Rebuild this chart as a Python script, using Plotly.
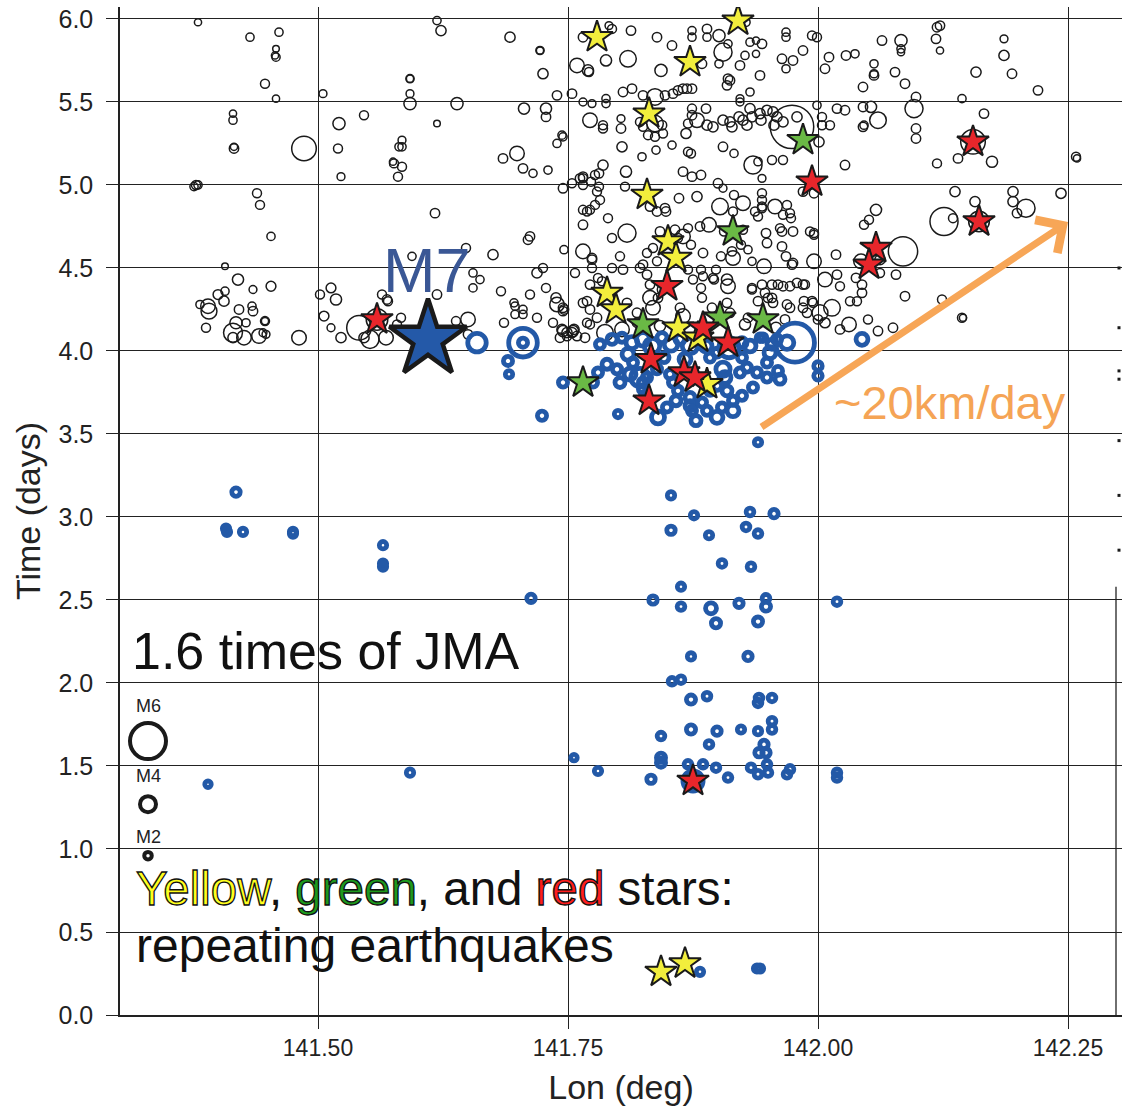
import plotly.graph_objects as go

# ---------------- data: (lon deg, time days, magnitude) ----------------
black_west = [(141.380,5.98,2.0),(141.432,5.89,2.3),(141.461,5.92,2.3),(141.458,5.82,1.8),(141.458,5.77,2.3),(141.457,5.78,2.0),
(141.447,5.61,2.5),(141.458,5.52,2.0),(141.415,5.43,2.0),(141.415,5.39,2.3),(141.416,5.22,2.6),(141.416,5.23,2.0),(141.486,5.22,4.8),
(141.378,5.00,2.5),(141.380,5.00,2.3),(141.376,4.99,2.3),(141.439,4.95,2.5),(141.442,4.88,2.5),(141.453,4.69,2.3),(141.407,4.51,1.8),
(141.420,4.43,3.0),(141.435,4.37,2.2),(141.453,4.39,2.7),(141.400,4.34,2.7),(141.407,4.36,2.3),(141.406,4.30,2.8),(141.382,4.28,2.3),
(141.390,4.27,3.6),(141.391,4.24,3.8),(141.421,4.25,2.6),(141.434,4.27,2.3),(141.435,4.24,2.6),(141.447,4.18,2.5),(141.447,4.18,2.0),
(141.428,4.17,2.3),(141.418,4.17,3.2),(141.388,4.14,2.5),(141.415,4.11,4.2),(141.415,4.08,2.8),(141.426,4.08,3.6),(141.441,4.09,3.6),
(141.445,4.11,2.2),(141.448,4.10,2.2),(141.481,4.08,3.6),(141.505,5.55,2.2),(141.521,5.37,3.2),(141.546,5.42,2.5),(141.520,5.22,2.5),
(141.523,5.05,2.2),(141.576,5.13,2.5),(141.575,5.14,2.0),(141.581,5.23,2.3),(141.580,5.05,2.5),(141.502,4.34,2.5),(141.513,4.38,2.7),
(141.518,4.31,3.0),(141.506,4.21,2.7),(141.513,4.14,2.2),(141.523,4.08,2.8),(141.541,4.14,4.8),(141.552,4.07,4.1),(141.564,4.34,2.5),
(141.570,4.30,2.5),(141.559,4.19,4.5),(141.568,4.08,3.6),(141.546,4.08,2.8)]

black_mid = [(141.619,5.99,2.3),(141.623,5.93,2.8),(141.692,5.89,2.8),(141.722,5.81,2.3),(141.722,5.81,2.0),(141.725,5.67,2.8),
(141.592,5.64,2.3),(141.592,5.64,2.0),(141.592,5.55,2.2),(141.592,5.49,3.2),(141.639,5.49,3.2),(141.619,5.37,1.8),(141.706,5.46,3.0),
(141.728,5.46,3.0),(141.728,5.41,2.6),(141.739,5.54,2.6),(141.754,5.55,2.6),(141.745,5.29,2.3),(141.739,5.25,2.3),(141.584,5.27,2.2),
(141.584,5.23,2.3),(141.699,5.19,3.6),(141.685,5.16,2.6),(141.584,5.11,2.5),(141.705,5.10,2.6),(141.715,5.07,2.3),(141.730,5.09,2.3),
(141.617,4.83,2.6),(141.712,4.69,2.6),(141.710,4.67,2.6),(141.675,4.58,2.8),(141.594,4.57,2.3),(141.648,4.62,2.5),(141.746,4.61,2.3),
(141.655,4.47,2.3),(141.662,4.43,2.3),(141.655,4.38,2.3),(141.719,4.47,2.8),(141.728,4.38,2.5),(141.683,4.36,2.5),(141.712,4.34,2.5),
(141.619,4.34,2.6),(141.569,4.31,2.6),(141.738,4.32,2.8),(141.696,4.29,2.3),(141.697,4.27,2.3),(141.705,4.25,2.3),(141.705,4.22,2.3),
(141.697,4.22,2.3),(141.719,4.20,2.5),(141.739,4.28,3.6),(141.745,4.24,2.6),(141.686,4.17,2.5),(141.650,4.19,3.6),(141.638,4.18,2.5),
(141.583,4.20,2.5),(141.579,4.16,2.5),(141.745,4.12,3.0),(141.755,4.12,3.0),(141.650,4.10,2.6)]

black_center_top = [(141.765,5.89,2.6),(141.791,5.96,2.2),(141.794,5.94,2.5),(141.813,5.93,2.6),(141.839,5.89,2.6),(141.810,5.76,3.9),
(141.788,5.75,3.0),(141.759,5.72,3.6),(141.770,5.69,3.0),(141.771,5.68,2.5),(141.843,5.69,3.2),(141.854,5.84,2.6),(141.874,5.93,2.3),
(141.874,5.89,2.3),(141.889,5.94,2.6),(141.889,5.89,2.3),(141.901,5.90,3.2),(141.884,5.73,2.6),(141.905,5.80,4.1),(141.910,5.85,2.3),
(141.901,5.73,2.3),(141.922,5.72,2.6),(141.927,5.78,2.3),(141.932,5.86,2.3),(141.938,5.87,2.0),(141.944,5.85,2.6),(141.938,5.79,2.0),
(141.942,5.66,2.6),(141.928,5.98,2.3),(141.968,5.92,2.3),(141.968,5.89,2.3),(141.985,5.81,2.6),(141.975,5.75,2.6),(141.964,5.76,2.6),
(141.968,5.70,2.3),(141.910,5.64,2.6),(141.912,5.63,2.6),(141.909,5.60,2.6),(141.932,5.56,2.3),(141.922,5.52,2.2),(141.922,5.50,2.2),
(141.805,5.56,2.6),(141.814,5.58,2.6),(141.825,5.54,2.6),(141.837,5.53,3.9),(141.847,5.54,2.6),(141.855,5.55,2.6),(141.860,5.57,2.6),
(141.865,5.58,2.6),(141.869,5.58,2.6),(141.874,5.58,2.6),(141.788,5.52,2.3),(141.788,5.49,2.3),(141.765,5.50,2.2),(141.774,5.49,2.2),
(141.822,5.38,2.5),(141.825,5.35,2.5),(141.830,5.30,2.5),(141.837,5.29,2.5),(141.845,5.31,2.5),(141.837,5.37,3.9),(141.844,5.36,2.6),
(141.803,5.40,2.2),(141.772,5.39,3.6),(141.785,5.36,2.5),(141.785,5.34,2.5),(141.803,5.34,2.6),(141.744,5.30,2.3),(141.804,5.23,2.8),
(141.824,5.17,2.3),(141.838,5.21,2.3),(141.854,5.24,2.3),(141.868,5.31,2.8),(141.870,5.20,2.5),(141.873,5.19,2.5),(141.874,5.46,2.5),
(141.888,5.46,2.6),(141.874,5.42,2.6),(141.879,5.39,3.6),(141.870,5.37,2.5),(141.889,5.36,2.8),(141.895,5.35,2.8),(141.905,5.39,2.8),
(141.912,5.38,2.8),(141.914,5.35,2.8),(141.921,5.41,2.8),(141.925,5.39,2.8),(141.929,5.36,2.8),(141.932,5.46,2.8),(141.934,5.41,2.8),
(141.942,5.43,2.8),(141.943,5.39,2.8),(141.949,5.45,2.8),(141.955,5.44,2.8),(141.959,5.41,2.8),(141.956,5.36,2.8),(141.965,5.38,2.8),
(141.979,5.41,2.8),(141.974,5.35,6.1),(141.905,5.23,2.6),(141.916,5.19,2.3),(141.935,5.12,4.1),(141.954,5.15,2.5),(141.965,5.15,2.5),
(141.940,5.14,2.3),(141.785,5.12,2.8),(141.808,5.08,3.0),(141.865,5.08,2.6),(141.874,5.05,2.6),(141.883,5.06,2.6),(141.781,5.07,2.6),
(141.765,5.05,2.6),(141.762,5.04,2.6)]

black_east = [(141.994,5.90,2.5),(141.999,5.89,2.5),(142.011,5.77,2.6),(142.007,5.70,2.6),(142.028,5.78,2.6),(142.037,5.79,2.3),
(142.056,5.73,2.3),(142.056,5.66,2.6),(142.056,5.67,2.3),(142.045,5.59,2.6),(142.064,5.87,2.6),(142.083,5.87,3.2),(142.083,5.82,2.3),
(142.083,5.80,2.0),(142.077,5.68,2.6),(142.087,5.61,2.6),(142.098,5.53,2.6),(142.096,5.46,4.1),(142.118,5.88,2.6),(142.119,5.95,2.6),
(142.122,5.96,2.6),(142.122,5.81,2.0),(142.158,5.68,2.8),(142.186,5.88,2.2),(142.186,5.78,2.8),(142.194,5.67,2.6),(142.220,5.57,2.6),
(142.144,5.52,2.3),(142.166,5.43,2.6),(141.999,5.48,2.3),(142.019,5.46,2.6),(142.027,5.45,2.6),(142.045,5.47,2.6),(142.045,5.35,2.6),
(142.046,5.36,2.3),(142.053,5.47,3.0),(142.060,5.39,3.9),(142.004,5.41,2.5),(142.004,5.36,2.5),(142.012,5.36,2.5),(142.001,5.26,2.8),
(142.098,5.34,2.6),(142.098,5.28,2.6),(142.155,5.26,4.8),(142.119,5.13,2.5),(142.140,5.16,2.6),(142.174,5.14,3.0),(142.258,5.17,2.5),
(142.259,5.16,2.0),(141.944,5.04,2.2),(142.027,5.12,2.6),(141.985,4.96,2.6),(141.996,4.95,2.6),(141.925,4.89,3.6),(141.944,4.95,2.5),
(141.944,4.91,2.5),(141.944,4.87,2.5),(141.944,4.86,2.5),(141.957,4.87,3.6),(141.969,4.88,2.5),(141.972,4.83,2.5),(141.965,4.82,2.5),
(141.973,4.80,2.5),(141.937,4.84,2.5),(141.940,4.81,2.5),(142.137,4.96,2.8),(142.195,4.96,2.8),(142.195,4.90,2.8),(142.208,4.86,4.1),
(142.199,4.83,2.6),(142.243,4.95,2.8),(142.157,4.90,2.8),(142.126,4.78,5.1),(142.135,4.80,2.5),(142.161,4.78,4.4),(142.058,4.85,3.0),
(142.051,4.79,2.5),(142.046,4.76,2.5),(142.085,4.60,5.2),(142.043,4.54,3.6),(142.062,4.55,2.8),(141.925,4.73,2.5),(141.948,4.71,2.6),
(141.949,4.65,2.6),(141.964,4.72,2.6),(141.975,4.72,2.6),(141.992,4.72,2.5),(141.996,4.71,2.5),(141.996,4.70,2.5),(141.964,4.63,2.6),
(141.930,4.61,2.3),(141.968,4.57,2.6),(141.975,4.53,2.6),(141.974,4.52,2.6),(141.996,4.54,3.6),(141.934,4.54,2.3),(141.946,4.51,3.6),
(142.018,4.58,2.6),(142.019,4.46,2.6),(142.007,4.43,3.6),(142.022,4.39,2.5),(142.038,4.44,2.6),(142.044,4.40,2.6),(142.044,4.35,2.6),
(142.078,4.46,2.6),(142.062,4.47,2.5),(142.087,4.33,2.6),(142.124,4.31,2.5),(142.144,4.20,2.5),(142.145,4.20,2.0),(142.075,4.14,2.6),
(142.050,4.19,2.5),(142.031,4.16,3.6),(142.039,4.30,2.5),(142.032,4.30,2.5),(142.014,4.26,3.9),(142.002,4.23,3.8),(142.007,4.17,2.8),
(141.994,4.30,2.6),(141.986,4.30,2.6),(141.985,4.26,2.6),(141.969,4.28,2.6),(141.972,4.26,2.6),(141.955,4.29,2.6),(141.940,4.30,2.6),
(141.934,4.38,2.5),(141.934,4.37,2.5),(141.944,4.40,2.6),(141.954,4.40,2.6),(141.960,4.40,2.6),(141.965,4.39,2.6),(141.972,4.39,2.6),
(141.947,4.35,2.6),(141.954,4.32,2.6),(141.950,4.32,2.6),(141.989,4.23,2.6),(142.000,4.19,2.6),(141.987,4.40,2.5),(141.995,4.29,2.5),
(141.979,4.41,2.6),(141.985,4.40,2.6)]

black_center_low = [(141.745,4.98,2.6),(141.754,5.01,2.5),(141.765,5.04,2.5),(141.765,5.00,2.5),(141.773,5.02,2.5),(141.777,5.06,2.5),
(141.781,4.99,2.5),(141.779,4.96,2.5),(141.807,4.99,2.5),(141.832,4.87,2.6),(141.839,4.84,2.6),(141.847,4.86,2.6),(141.848,4.84,2.6),
(141.861,4.92,2.6),(141.879,4.93,2.8),(141.900,5.01,2.6),(141.905,4.98,2.2),(141.916,4.94,2.5),(141.902,4.87,3.9),(141.915,4.84,2.5),
(141.765,4.85,2.5),(141.769,4.84,2.5),(141.772,4.85,2.5),(141.777,4.88,2.5),(141.782,4.91,2.5),(141.790,4.80,2.5),(141.765,4.76,2.6),
(141.809,4.71,4.1),(141.794,4.68,2.5),(141.765,4.60,3.6),(141.774,4.56,2.6),(141.774,4.55,2.6),(141.802,4.57,2.5),(141.842,4.72,2.6),
(141.857,4.73,2.6),(141.865,4.69,3.6),(141.860,4.68,2.5),(141.873,4.64,2.5),(141.870,4.74,2.5),(141.885,4.59,2.6),(141.882,4.75,2.6),
(141.891,4.76,3.6),(141.906,4.72,2.5),(141.923,4.64,2.5),(141.914,4.60,2.6),(141.915,4.56,3.6),(141.903,4.57,2.5),(141.962,4.74,2.5),
(141.835,4.62,2.5),(141.829,4.59,2.5),(141.839,4.54,2.5),(141.822,4.50,2.6),(141.829,4.46,2.6),(141.832,4.40,2.6),(141.844,4.37,2.6),
(141.840,4.32,2.6),(141.825,4.52,2.6),(141.794,4.50,2.5),(141.805,4.49,2.6),(141.774,4.50,2.5),(141.780,4.44,2.5),(141.784,4.42,2.5),
(141.757,4.47,2.5),(141.725,4.50,2.5),(141.772,4.40,2.6),(141.745,4.26,2.6),(141.746,4.25,2.6),(141.765,4.29,2.6),(141.769,4.30,2.6),
(141.772,4.25,2.6),(141.779,4.20,2.6),(141.769,4.17,2.5),(141.772,4.16,2.5),(141.787,4.11,3.9),(141.735,4.17,2.5),(141.744,4.13,2.8),
(141.749,4.11,2.8),(141.754,4.11,2.8),(141.756,4.13,2.8),(141.809,4.29,2.6),(141.819,4.23,2.6),(141.819,4.17,2.6),(141.825,4.14,2.6),
(141.835,4.26,3.6),(141.832,4.32,3.6),(141.862,4.26,2.6),(141.865,4.21,3.6),(141.883,4.38,2.5),(141.884,4.32,2.5),(141.870,4.49,2.5),
(141.875,4.43,2.5),(141.885,4.45,2.5),(141.895,4.44,2.5),(141.896,4.43,2.5),(141.909,4.43,3.0),(141.910,4.39,3.6),(141.883,4.49,2.5),
(141.898,4.49,2.5),(141.894,4.26,2.6),(141.909,4.29,2.6),(141.912,4.23,2.6),(141.930,4.20,2.6),(141.742,4.08,2.6),(141.749,4.09,2.6),
(141.759,4.09,2.6),(141.767,4.08,2.6),(141.804,4.13,3.6),(141.842,4.15,3.0),(141.927,4.16,3.0),(141.958,4.14,3.0),(141.967,4.19,2.6),
(142.022,4.13,2.6),(142.060,4.12,2.6)]

blue_cluster = [(141.659,4.05,4.6),(141.705,4.05,5.6),(141.705,4.05,3.0),(141.690,3.94,3.0),(141.691,3.86,2.5),(141.724,3.61,3.0),
(141.745,3.81,3.0),(141.775,3.81,3.0),(141.789,3.92,3.2),(141.799,3.89,3.0),(141.802,3.81,3.2),(141.800,3.62,2.5),(141.822,3.84,4.6),
(141.825,3.81,3.0),(141.825,3.77,3.0),(141.829,3.84,3.0),(141.839,3.89,3.0),(141.827,3.73,3.0),(141.840,3.60,3.8),(141.849,3.66,3.0),
(141.855,3.81,3.0),(141.852,3.86,3.0),(141.865,3.87,3.0),(141.860,3.76,3.0),(141.872,3.72,3.2),(141.872,3.67,3.2),(141.874,3.64,3.0),
(141.889,3.64,3.0),(141.899,3.60,3.6),(141.904,3.66,3.0),(141.915,3.64,3.6),(141.924,3.73,3.0),(141.909,3.76,3.2),(141.907,3.84,3.6),
(141.905,3.89,4.0),(141.892,3.76,3.0),(141.899,3.79,3.0),(141.922,3.87,3.0),(141.929,3.90,3.0),(141.939,3.87,3.0),(141.949,3.84,3.0),
(141.949,3.93,3.0),(142.000,3.91,2.8),(142.000,3.85,2.8),(141.940,3.45,2.5),(141.977,4.05,6.3),(141.969,4.05,3.9),(141.911,4.02,4.8),
(141.942,4.08,2.6),(141.945,4.08,2.6),(142.044,4.07,3.6),(141.899,3.99,3.0),(141.892,3.96,3.0),(141.782,4.04,3.0),(141.794,4.07,3.2),
(141.804,4.08,3.0),(141.814,4.05,3.6),(141.825,4.07,3.9),(141.834,4.03,4.2),(141.844,4.08,3.2),(141.853,4.04,3.9),(141.862,4.07,3.2),
(141.872,4.03,4.2),(141.882,4.07,3.2),(141.888,4.03,3.6),(141.924,4.05,3.2),(141.932,4.03,3.6),(141.954,4.04,3.2),(141.959,4.07,3.0),
(141.810,3.98,3.6),(141.846,3.96,3.2),(141.867,3.95,3.6),(141.924,3.96,3.0),(141.952,3.99,3.6),(141.780,3.87,3.0),(141.815,3.93,3.0),
(141.858,3.70,3.2),(141.884,3.69,3.0),(141.915,3.70,3.0),(141.935,3.78,3.0),(141.960,3.88,3.0),(141.962,3.83,3.2),(141.878,3.58,3.2),
(141.812,3.86,3.6)]

blue_early = [(141.418,3.15,2.8),(141.408,2.93,2.5),(141.409,2.91,2.5),(141.425,2.91,2.5),(141.475,2.91,2.5),(141.475,2.90,2.5),
(141.565,2.83,2.5),(141.565,2.72,2.5),(141.565,2.70,2.5),(141.713,2.51,2.8),(141.390,1.39,2.2),(141.592,1.46,2.5),(141.756,1.55,2.2),
(141.780,1.47,2.5),(141.833,1.42,2.8),(141.853,3.13,2.5),(141.876,3.01,2.5),(141.932,3.03,2.6),(141.956,3.02,2.8),(141.853,2.92,2.8),
(141.891,2.89,2.5),(141.928,2.94,2.6),(141.940,2.90,2.6),(141.904,2.72,2.6),(141.933,2.70,2.6),(141.863,2.58,2.5),(141.835,2.50,2.8),
(141.863,2.46,2.6),(141.893,2.45,3.4),(141.921,2.48,2.8),(141.948,2.51,2.6),(141.948,2.46,3.0),(141.898,2.36,3.0),(141.940,2.37,3.0),
(142.019,2.49,2.6),(141.873,2.16,2.5),(141.930,2.16,2.8),(141.854,2.01,2.6),(141.863,2.02,2.6),(141.873,1.90,3.0),(141.889,1.92,2.6),
(141.941,1.91,2.6),(141.940,1.88,2.6),(141.954,1.91,2.6),(141.954,1.77,2.6),(141.954,1.72,2.6),(141.843,1.68,2.6),(141.873,1.72,3.0),
(141.899,1.71,2.8),(141.923,1.72,2.5),(141.940,1.71,2.5),(141.891,1.63,2.6),(141.946,1.63,2.8),(141.941,1.58,2.8),(141.948,1.58,2.8),
(141.843,1.55,3.0),(141.843,1.52,3.0),(141.870,1.51,2.6),(141.885,1.51,2.6),(141.898,1.49,2.6),(141.910,1.43,2.6),(141.933,1.49,2.6),
(141.949,1.51,2.6),(141.950,1.46,2.6),(141.940,1.45,2.6),(141.969,1.45,2.6),(141.972,1.48,2.6),(142.019,1.46,2.6),(142.019,1.43,2.6),
(141.875,1.41,4.8),(141.939,0.28,2.5),(141.942,0.28,2.5),(141.882,0.26,2.5)]

yellow_lon = [141.779,141.872,141.920,141.831,141.829,141.850,141.858,141.789,141.798,141.860,141.880,141.889,141.843,141.867]
yellow_time = [5.89,5.74,5.99,5.43,4.94,4.66,4.56,4.35,4.25,4.14,4.08,3.80,0.26,0.31]
green_lon = [141.985,141.915,141.825,141.902,141.945,141.765]
green_time = [5.27,4.72,4.16,4.20,4.19,3.81]
red_lon = [141.559,141.994,142.155,142.161,142.058,142.051,141.849,141.885,141.910,141.833,141.831,141.866,141.877,141.875]
red_time = [4.19,5.02,5.26,4.78,4.62,4.52,4.39,4.14,4.05,3.95,3.70,3.87,3.84,1.41]

m7_lon, m7_time = [141.610], [4.07]

legend_labels = ["M6", "M4", "M2"]
legend_time = [1.65, 1.27, 0.96]
legend_label_time = [1.86, 1.44, 1.07]
legend_lon = 141.330

edge_time = [4.50, 4.14, 3.88, 3.83, 3.46, 3.13, 2.80]
edge_lon = 142.301

x_ticks = [141.50, 141.75, 142.00, 142.25]
x_ticktext = ["141.50", "141.75", "142.00", "142.25"]

# ---------------- helpers ----------------
def msize(m):
    return 3.0 * 1.55 ** m

def unzip(lst):
    return [p[0] for p in lst], [p[1] for p in lst], [p[2] for p in lst]

BLUE = "#2359a7"
FONT = "Liberation Sans, Arial, Helvetica, sans-serif"

fig = go.Figure()

bx, bt, bm = unzip(black_west + black_mid + black_center_top + black_east + black_center_low)
fig.add_trace(go.Scatter(x=bx, y=bt, mode="markers",
    marker=dict(symbol="circle-open", size=[msize(m) for m in bm], color="#1a1a1a", opacity=1,
                line=dict(width=1.5))))

ux, ut, um = unzip(blue_cluster + blue_early)
fig.add_trace(go.Scatter(x=ux, y=ut, mode="markers",
    marker=dict(symbol="circle-open", size=[max(msize(m) * 0.82, 6) for m in um], color=BLUE, opacity=1,
                line=dict(width=4.8))))

for lon, tm, col in [(yellow_lon, yellow_time, "#f2ee3c"), (green_lon, green_time, "#6ab945"), (red_lon, red_time, "#e8262b")]:
    fig.add_trace(go.Scatter(x=lon, y=tm, mode="markers",
        marker=dict(symbol="star", size=24, color=col, opacity=1, line=dict(color="#1a1a1a", width=2))))

fig.add_trace(go.Scatter(x=m7_lon, y=m7_time, mode="markers",
    marker=dict(symbol="star", size=58, color="#2459a8", opacity=1, line=dict(color="#1a1a1a", width=4.5))))

fig.add_trace(go.Scatter(x=[legend_lon] * 3, y=legend_time, mode="markers", cliponaxis=False,
    marker=dict(symbol="circle-open", size=[36, 16, 7.5], color="#1a1a1a", opacity=1, line=dict(width=4))))

fig.add_trace(go.Scatter(x=[edge_lon] * len(edge_time), y=edge_time, mode="markers", cliponaxis=False,
    marker=dict(symbol="square", size=3, color="#1a1a1a", opacity=1)))

ann = []
for lab, tl in zip(legend_labels, legend_label_time):
    ann.append(dict(x=legend_lon, y=tl, text=lab, showarrow=False, font=dict(size=18, color="#222", family=FONT)))
ann.append(dict(x=141.609, y=4.49, text="M7", showarrow=False, font=dict(size=63, color="#3a5795", family=FONT)))
ann.append(dict(x=142.132, y=3.69, text="~20km/day", showarrow=False, font=dict(size=47, color="#f5a455", family=FONT)))
ann.append(dict(x=141.312, y=2.19, text="1.6 times of JMA", showarrow=False, xanchor="left",
                font=dict(size=52, color="#111", family=FONT)))
stroke = "stroke:#111;stroke-width:1.3px"
ann.append(dict(x=141.316, y=0.765, xanchor="left", showarrow=False, font=dict(size=47.5, color="#111", family=FONT),
                text=(f'<span style="fill:#ffff1e;{stroke}">Yellow</span>, '
                      f'<span style="fill:#1d9a1d;{stroke}">green</span>, and '
                      f'<span style="fill:#ff1e1e;{stroke}">red</span> stars:')))
ann.append(dict(x=141.316, y=0.42, xanchor="left", showarrow=False, text="repeating earthquakes",
                font=dict(size=48, color="#111", family=FONT)))
ann.append(dict(x=142.250, y=4.777, ax=141.942, ay=3.536, axref="x", ayref="y", xref="x", yref="y",
                text="", showarrow=True, arrowhead=4, arrowsize=1.1, arrowwidth=7, arrowcolor="#f7a657", standoff=0))

shapes = [
    dict(type="rect", xref="paper", yref="paper", x0=0.9805, x1=1.0, y0=0.425, y1=1.0,
         fillcolor="white", line=dict(width=0), layer="between"),
    dict(type="line", xref="x", yref="y", x0=142.298, x1=142.298, y0=0, y1=2.58,
         line=dict(color="#222", width=1.3), layer="above"),
]

fig.update_layout(
    width=1122, height=1108,
    margin=dict(l=120, r=0, t=7, b=93),
    paper_bgcolor="white", plot_bgcolor="white",
    showlegend=False,
    font=dict(family=FONT, color="#222"),
    annotations=ann, shapes=shapes,
    xaxis=dict(range=[141.302, 142.304], tickvals=x_ticks, ticktext=x_ticktext,
               showgrid=True, gridcolor="#222", gridwidth=1.3, zeroline=False,
               ticks="outside", ticklen=12, tickwidth=1.3, tickcolor="#222",
               showline=True, linecolor="#222", linewidth=1.5,
               tickfont=dict(size=23, family=FONT, color="#222"),
               title=dict(text="Lon (deg)", font=dict(size=34, family=FONT, color="#222"), standoff=15)),
    yaxis=dict(range=[0, 6.072], tickvals=[0, 0.5, 1, 1.5, 2, 2.5, 3, 3.5, 4, 4.5, 5, 5.5, 6],
               tickformat=".1f", showgrid=True, gridcolor="#222", gridwidth=1.3, zeroline=False,
               ticks="outside", ticklen=12, tickwidth=1.3, tickcolor="#222", ticklabelstandoff=8,
               showline=True, linecolor="#222", linewidth=1.5,
               tickfont=dict(size=25, family=FONT, color="#222"),
               title=dict(text="Time (days)", font=dict(size=34, family=FONT, color="#222"), standoff=8)),
)

fig.write_html("out.html")
